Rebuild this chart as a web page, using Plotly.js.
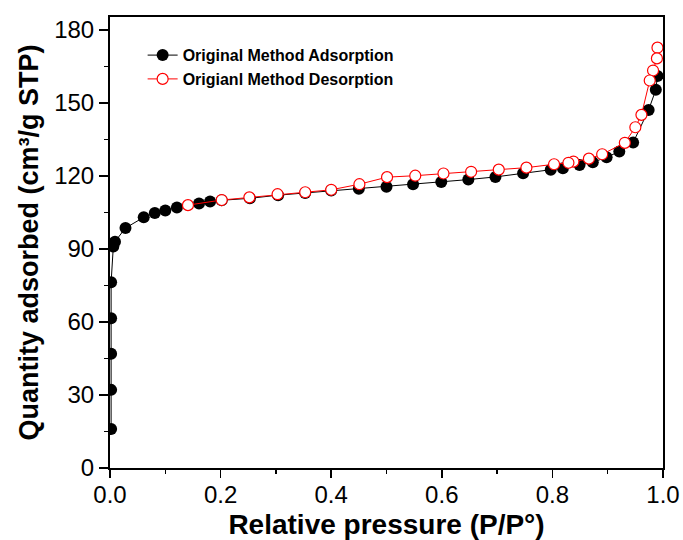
<!DOCTYPE html>
<html>
<head>
<meta charset="utf-8">
<script src="https://cdn.plot.ly/plotly-3.0.1.min.js"></script>
<style>html,body{margin:0;padding:0;background:#fff;}#chart{width:683px;height:540px;}</style>
</head>
<body>
<div id="chart"></div>
<script>
// Adsorption branch (black filled)
var adsX = [0.002, 0.002, 0.002, 0.002, 0.002, 0.006, 0.009, 0.028, 0.061, 0.081, 0.100, 0.121, 0.161, 0.181, 0.202, 0.253, 0.304, 0.353, 0.400, 0.450, 0.500, 0.548, 0.599, 0.648, 0.697, 0.747, 0.797, 0.819, 0.849, 0.873, 0.898, 0.921, 0.946, 0.974, 0.987, 0.990];
var adsY = [16.0, 32.1, 46.9, 61.5, 76.3, 91.0, 93.0, 98.6, 103.0, 104.8, 105.8, 107.0, 108.7, 109.5, 110.0, 110.8, 112.1, 113.0, 114.0, 114.7, 115.6, 116.6, 117.5, 118.5, 119.6, 121.1, 122.5, 123.2, 124.5, 125.6, 127.7, 130.0, 133.7, 147.1, 155.4, 161.1];
// Desorption branch (red open), from high to low pressure
var desX = [0.990, 0.989, 0.982, 0.976, 0.961, 0.950, 0.931, 0.890, 0.866, 0.838, 0.829, 0.803, 0.753, 0.703, 0.653, 0.603, 0.552, 0.501, 0.451, 0.400, 0.353, 0.303, 0.252, 0.202, 0.141];
var desY = [172.7, 168.3, 163.3, 159.2, 145.1, 140.0, 133.6, 128.9, 127.1, 125.9, 125.4, 124.8, 123.4, 122.6, 121.7, 121.0, 120.1, 119.5, 116.6, 114.3, 113.3, 112.5, 111.2, 110.1, 108.0];
var seriesNames = ["Original Method Adsorption", "Origianl Method Desorption"];
var xTitle = "Relative pressure (P/P°)";
var yTitle = "Quantity adsorbed (cm³/g STP)";

var traces = [
  {x: adsX, y: adsY, name: seriesNames[0], type: 'scatter', mode: 'lines+markers',
   line: {color: '#000', width: 1}, marker: {color: '#000', size: 12, symbol: 'circle'}},
  {x: desX, y: desY, name: seriesNames[1], type: 'scatter', mode: 'lines+markers',
   line: {color: '#ff0000', width: 1}, cliponaxis: false,
   marker: {color: '#fff', size: 11, symbol: 'circle', line: {color: '#ff0000', width: 1.2}}}
];

var fam = 'Liberation Sans, Arial, sans-serif';
var axisFont = {family: fam, size: 24, color: '#000'};
var layout = {
  width: 683, height: 540,
  margin: {l: 110, r: 20, t: 17, b: 72},
  paper_bgcolor: '#fff', plot_bgcolor: '#fff',
  showlegend: true,
  legend: {x: 0.059, y: 0.953, xanchor: 'left', yanchor: 'top', bgcolor: 'rgba(0,0,0,0)',
           font: {family: fam, size: 16, color: '#000', weight: 'bold'},
           itemwidth: 30, tracegroupgap: 0},
  xaxis: {
    range: [0, 1], dtick: 0.2, tick0: 0, tickformat: '.1f',
    showgrid: false, zeroline: false, showline: true, linecolor: '#000', linewidth: 2, mirror: true,
    ticks: 'outside', ticklen: 8, tickwidth: 1.5, tickcolor: '#000', ticklabelstandoff: -4,
    minor: {dtick: 0.1, ticks: 'outside', ticklen: 4, tickwidth: 1.5, tickcolor: '#000', showgrid: false},
    tickfont: axisFont, automargin: false,
    title: {text: xTitle, font: {family: fam, size: 28, color: '#000', weight: 'bold'}, standoff: 9}
  },
  yaxis: {
    range: [0, 185.3], dtick: 30, tick0: 0,
    showgrid: false, zeroline: false, showline: true, linecolor: '#000', linewidth: 2, mirror: true,
    ticks: 'outside', ticklen: 9, tickwidth: 1.5, tickcolor: '#000',
    minor: {dtick: 15, ticks: 'outside', ticklen: 4, tickwidth: 1.5, tickcolor: '#000', showgrid: false},
    tickfont: axisFont, automargin: false,
    title: {text: yTitle, font: {family: fam, size: 27, color: '#000', weight: 'bold'}, standoff: 8}
  }
};
Plotly.newPlot('chart', traces, layout, {displayModeBar: false, staticPlot: true});
</script>
</body>
</html>
